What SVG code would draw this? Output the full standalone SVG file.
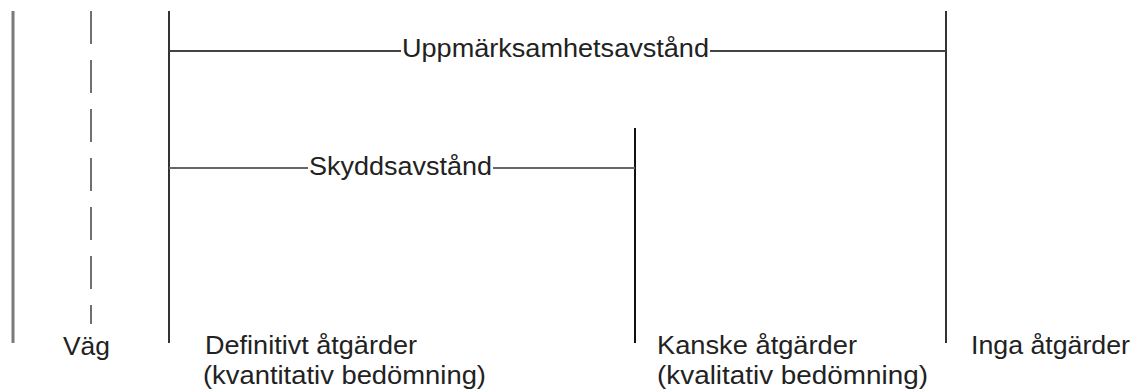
<svg xmlns="http://www.w3.org/2000/svg" width="1134" height="391" viewBox="0 0 1134 391">
<style>
text{font-family:"Liberation Sans",Arial,sans-serif;font-size:25px;fill:#222}
.bar{stroke:#333;stroke-width:2;fill:none}
.dim{stroke:#444;stroke-width:2;fill:none}
</style>
<rect width="1134" height="391" fill="#fff"/>
<g id="road">
<line x1="13" y1="11" x2="13" y2="343" stroke="#7a7a7a" stroke-width="3"/>
<line x1="91" y1="11" x2="91" y2="324" stroke="#707070" stroke-width="2" stroke-dasharray="33,16"/>
<text x="63" y="355" textLength="47" lengthAdjust="spacingAndGlyphs">Väg</text>
</g>
<g id="zone-definitivt">
<line class="bar" x1="169" y1="11" x2="169" y2="343"/>
<text x="205" y="354" textLength="212" lengthAdjust="spacingAndGlyphs">Definitivt åtgärder</text>
<text x="203" y="384" textLength="283" lengthAdjust="spacingAndGlyphs">(kvantitativ bedömning)</text>
</g>
<g id="zone-kanske">
<line x1="635" y1="128" x2="635" y2="343" stroke="#111" stroke-width="2"/>
<text x="657" y="354" textLength="200" lengthAdjust="spacingAndGlyphs">Kanske åtgärder</text>
<text x="657" y="384" textLength="271" lengthAdjust="spacingAndGlyphs">(kvalitativ bedömning)</text>
</g>
<g id="zone-inga">
<line class="bar" x1="946" y1="11" x2="946" y2="343"/>
<text x="971" y="354" textLength="159" lengthAdjust="spacingAndGlyphs">Inga åtgärder</text>
</g>
<g id="connectors">
<line class="dim" x1="169" y1="51" x2="401" y2="51"/>
<line class="dim" x1="710" y1="51" x2="946" y2="51"/>
<text x="402" y="57" textLength="307" lengthAdjust="spacingAndGlyphs">Uppmärksamhetsavstånd</text>
<line x1="169" y1="168" x2="308" y2="168" stroke="#666" stroke-width="2"/>
<line x1="493" y1="168" x2="635" y2="168" stroke="#666" stroke-width="2"/>
<text x="309" y="175" textLength="183" lengthAdjust="spacingAndGlyphs">Skyddsavstånd</text>
</g>
</svg>
